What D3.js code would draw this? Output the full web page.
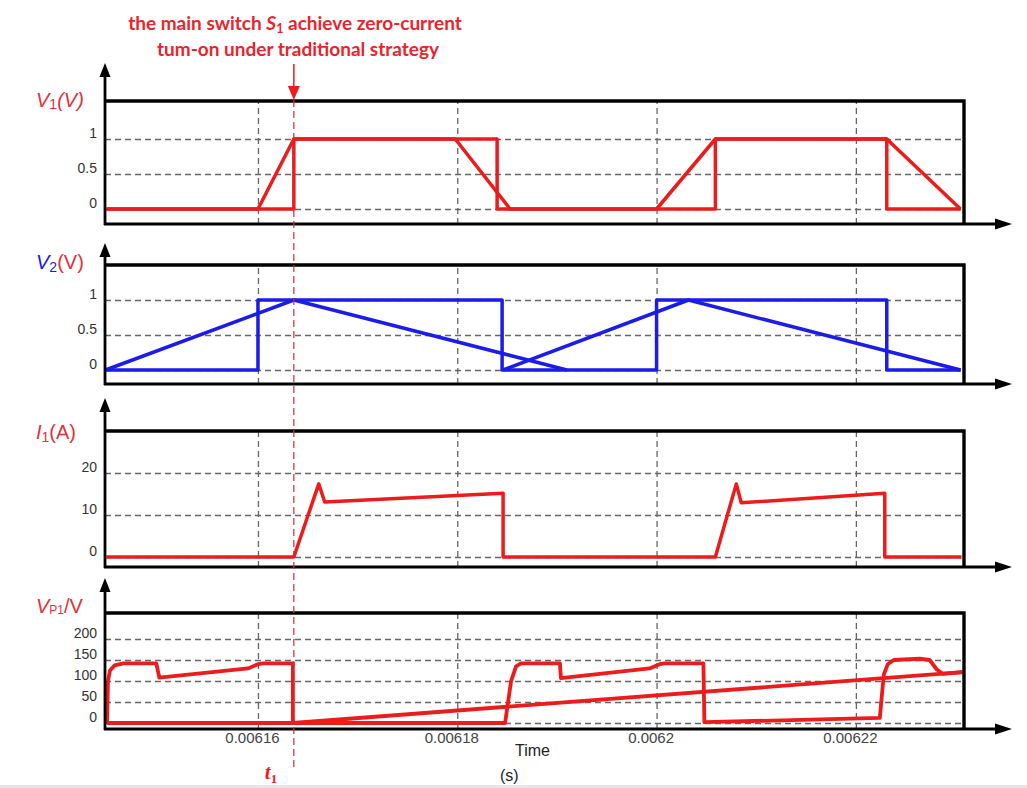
<!DOCTYPE html>
<html><head><meta charset="utf-8">
<script src="https://cdn.jsdelivr.net/npm/d3@7"></script>
<style>body{margin:0;background:#fff} svg{display:block}</style>
</head><body><svg id="chart" width="1027" height="788"></svg>
<script>
// Time values are in microseconds; tick labels show seconds.
const tStart = 6144.65, tEnd = 6230.85;
const tTurnOn = 6163.6;
const timeTicks = [6160, 6180, 6200, 6220];
const timeTickLabels = ["0.00616", "0.00618", "0.0062", "0.00622"];

const v1Ticks = [0, 0.5, 1];
const v2Ticks = [0, 0.5, 1];
const i1Ticks = [0, 10, 20];
const vp1Ticks = [0, 50, 100, 150, 200];

// Gate signal V1: ramped and hard-switched versions
const v1Ramp = [[6144.8,0],[6160,0],[6163.6,1],[6179.8,1],[6185.3,0],[6200,0],[6205.9,1],[6223.1,1],[6230.5,0]];
const v1Step = [[6144.8,0],[6163.6,0],[6163.6,1],[6184.0,1],[6184.0,0],[6205.9,0],[6205.9,1],[6223.1,1],[6223.1,0],[6230.5,0]];

// V2: square wave and two carrier triangles
const v2Step = [[6144.8,0],[6160,0],[6160,1],[6184.5,1],[6184.5,0],[6200,0],[6200,1],[6223.1,1],[6223.1,0],[6230.5,0]];
const v2TriA = [[6144.7,0],[6163.6,1],[6191.0,0]];
const v2TriB = [[6184.6,0],[6203.2,1],[6230.5,0]];

// Switch current I1 (A)
const i1Current = [[6144.8,0],[6163.6,0],[6166.1,17.4],[6166.7,13.1],[6184.6,15.2],[6184.6,0],[6205.9,0],[6208.0,17.4],[6208.5,12.9],[6222.9,15.2],[6222.9,0],[6230.6,0]];

// Voltage VP1 (V)
const vp1TraceA = [[6144.85,0],[6144.95,100],[6145.15,125],[6145.6,137],[6146.5,142],[6149.8,142],[6150.1,108],[6159.0,130],[6160,140],[6160.5,142],[6163.5,142],[6163.5,0],[6230.7,121]];
const vp1TraceB = [[6144.85,0],[6184.8,0],[6185.4,100],[6185.9,135],[6186.4,142],[6190.3,142],[6190.4,107],[6199.3,130],[6200.3,140],[6200.8,142],[6204.7,142],[6204.8,2],[6222.4,12],[6222.8,115],[6223.2,140],[6223.8,150],[6226.4,153],[6227.4,150],[6228.1,128],[6228.7,117],[6230.7,121]];

const RED = "#ec1c1c", BLUE = "#1c1ce8", LABEL_RED = "#e2323c";

const svg = d3.select("#chart");
const left = 105, right = 964;
const x = d3.scaleLinear().domain([tStart, tEnd]).range([left, right]);

const panels = [
  {top: 101, axisY: 224, tip: 63,  domain: [0, 1],   range: [209, 139], ticks: v1Ticks,
   series: [{d: v1Ramp, c: RED}, {d: v1Step, c: RED}]},
  {top: 265, axisY: 384, tip: 243, domain: [0, 1],   range: [370, 300], ticks: v2Ticks,
   series: [{d: v2TriA, c: BLUE}, {d: v2TriB, c: BLUE}, {d: v2Step, c: BLUE}]},
  {top: 431, axisY: 567, tip: 398, domain: [0, 20],  range: [557, 473], ticks: i1Ticks,
   series: [{d: i1Current, c: RED}]},
  {top: 613, axisY: 729, tip: 578, domain: [0, 200], range: [723, 639], ticks: vp1Ticks,
   series: [{d: vp1TraceA, c: RED, w: 3.8}, {d: vp1TraceB, c: RED, w: 3.8}]}
];

panels.forEach((p, i) => {
  const g = svg.append("g");
  const y = d3.scaleLinear().domain(p.domain).range(p.range);

  // horizontal dashed grid + tick labels
  const yAxis = d3.axisLeft(y).tickValues(p.ticks).tickSize(-(right - left)).tickPadding(8)
    .tickFormat(d3.format("~g"));
  const ya = g.append("g").attr("transform", `translate(${left},0)`).call(yAxis);
  ya.select(".domain").remove();
  ya.selectAll(".tick line").attr("stroke", "#666").attr("stroke-width", 1.3).attr("stroke-dasharray", "6,4");
  ya.selectAll(".tick text").attr("fill", "#333").attr("font-family", "Liberation Sans, Arial, sans-serif")
    .style("font-size", "14px").attr("dy", "-0.1em").attr("x", -8);

  // vertical dashed grid
  const xg = d3.axisBottom(x).tickValues(timeTicks).tickSize(-(p.axisY - p.top)).tickFormat("");
  const xa = g.append("g").attr("transform", `translate(0,${p.axisY})`).call(xg);
  xa.select(".domain").remove();
  xa.selectAll(".tick line").attr("stroke", "#666").attr("stroke-width", 1.3).attr("stroke-dasharray", "6,4");

  // waveforms
  const line = d3.line().x(d => x(d[0])).y(d => y(d[1]));
  p.series.forEach(s => {
    g.append("path").attr("d", line(s.d)).attr("fill", "none").attr("stroke", s.c)
      .attr("stroke-width", s.w || 3.5).attr("stroke-linejoin", "round");
  });

  // frame: top and right edges
  g.append("path").attr("d", `M${left},${p.top}H${right}V${p.axisY}`)
    .attr("fill", "none").attr("stroke", "#000").attr("stroke-width", 3.4);
  // vertical axis with arrow
  g.append("line").attr("x1", left).attr("x2", left).attr("y1", p.axisY + 1).attr("y2", p.tip + 8)
    .attr("stroke", "#000").attr("stroke-width", 2.8);
  g.append("path").attr("d", `M${left},${p.tip}L${left - 5.5},${p.tip + 14}L${left + 5.5},${p.tip + 14}Z`).attr("fill", "#000");
  // horizontal axis with arrow
  g.append("line").attr("x1", left - 1).attr("x2", 998).attr("y1", p.axisY).attr("y2", p.axisY)
    .attr("stroke", "#000").attr("stroke-width", 2.8);
  g.append("path").attr("d", `M1012,${p.axisY}L995,${p.axisY - 5.5}L995,${p.axisY + 5.5}Z`).attr("fill", "#000");
});

// time tick labels under the last panel
const last = panels[3];
const xAxis = d3.axisBottom(x).tickValues(timeTicks).tickSize(0).tickPadding(3)
  .tickFormat((d, i) => timeTickLabels[i]);
const xa = svg.append("g").attr("transform", `translate(-6,${last.axisY})`).call(xAxis);
xa.select(".domain").remove();
xa.selectAll(".tick text").attr("fill", "#444").attr("font-family", "Liberation Sans, Arial, sans-serif")
  .style("font-size", "15px");

const sans = "Liberation Sans, Arial, sans-serif";
svg.append("text").attr("x", 515).attr("y", 756).attr("font-family", sans).attr("font-size", 16)
  .attr("fill", "#222").text("Time");
svg.append("text").attr("x", 500).attr("y", 781).attr("font-family", sans).attr("font-size", 16)
  .attr("fill", "#222").text("(s)");

// panel axis titles
function axisTitle(yPos, parts) {
  const t = svg.append("text").attr("x", 36).attr("y", yPos).attr("font-family", sans).attr("font-size", 20);
  parts.forEach(pt => {
    const s = t.append("tspan").text(pt.text).attr("fill", pt.color);
    if (pt.italic) s.attr("font-style", "italic");
    if (pt.size) s.attr("font-size", pt.size);
    if (pt.dy) s.attr("dy", pt.dy);
  });
}
axisTitle(107, [{text: "V", italic: true, color: LABEL_RED}, {text: "1", size: 14, dy: 2, color: LABEL_RED},
  {text: "(V)", italic: true, dy: -2, color: LABEL_RED}]);
axisTitle(269, [{text: "V", italic: true, color: BLUE}, {text: "2", size: 14, dy: 3, color: BLUE},
  {text: "(V)", dy: -3, color: LABEL_RED}]);
axisTitle(439, [{text: "I", italic: true, color: LABEL_RED}, {text: "1", size: 14, dy: 3, color: LABEL_RED},
  {text: "(A)", dy: -3, color: LABEL_RED}]);
axisTitle(613, [{text: "V", italic: true, color: LABEL_RED}, {text: "P1", size: 12, dy: 1, color: LABEL_RED},
  {text: "/V", dy: -1, color: LABEL_RED}]);

// turn-on instant marker
const xt = x(tTurnOn);
svg.append("line").attr("x1", xt).attr("x2", xt).attr("y1", 100).attr("y2", 770)
  .attr("stroke", "#d42a3a").attr("stroke-width", 1.2).attr("stroke-dasharray", "7,4");
svg.append("line").attr("x1", xt).attr("x2", xt).attr("y1", 64).attr("y2", 90)
  .attr("stroke", RED).attr("stroke-width", 1.5);
svg.append("path").attr("d", `M${xt},100L${xt - 6},86L${xt + 6},86Z`).attr("fill", RED);

const tl = svg.append("text").attr("x", xt - 29).attr("y", 779).attr("fill", RED)
  .attr("font-family", "Liberation Serif, serif").attr("font-weight", "bold").attr("font-style", "italic").attr("font-size", 21);
tl.append("tspan").text("t");
tl.append("tspan").text("1").attr("font-size", 13).attr("dy", 4).attr("font-style", "normal");

// annotation
const titleFont = "Lato, Open Sans, sans-serif";
const t1 = svg.append("text").attr("x", 295).attr("y", 30).attr("text-anchor", "middle")
  .attr("font-family", titleFont).attr("font-weight", "bold").attr("font-size", 19).attr("fill", "#e8242c");
t1.append("tspan").text("the main switch ");
t1.append("tspan").text("S").attr("font-style", "italic");
t1.append("tspan").text("1").attr("font-size", 12.5).attr("dy", 3);
t1.append("tspan").text(" achieve zero-current").attr("dy", -3);
svg.append("text").attr("x", 298).attr("y", 56).attr("text-anchor", "middle")
  .attr("font-family", titleFont).attr("font-weight", "bold").attr("font-size", 19).attr("fill", "#e8242c")
  .text("tum-on under traditional strategy");

// bottom strip
svg.append("rect").attr("x", 0).attr("y", 785).attr("width", 1027).attr("height", 3).attr("fill", "#e4e4e4");
</script></body></html>
